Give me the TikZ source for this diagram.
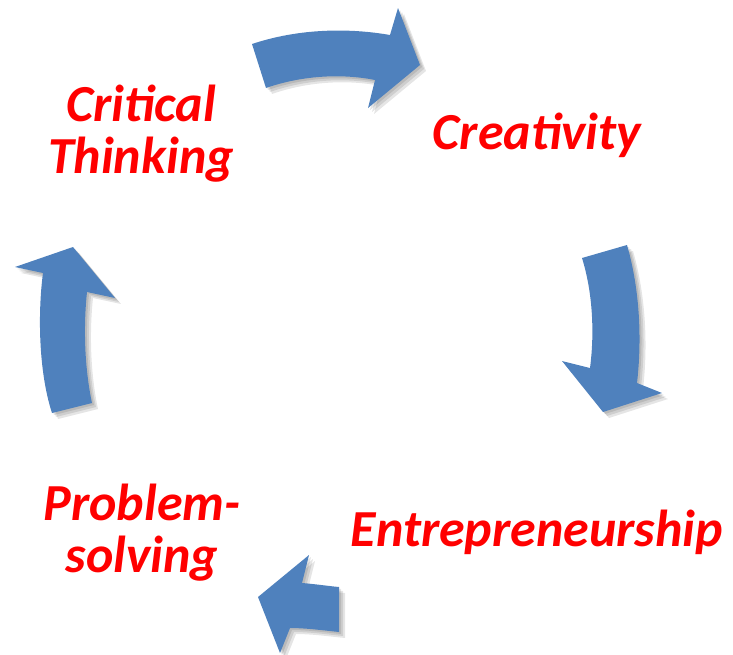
\documentclass[tikz,border=0pt]{standalone}
\usepackage{fontspec}
\setmainfont{Carlito}
\definecolor{arrowblue}{RGB}{79,129,189}
\definecolor{labelred}{RGB}{255,0,0}
\tikzset{
  cyclearrow/.style={fill=arrowblue, draw=none},
  arrowshadow/.style={fill=black, draw=none, opacity=0.10},
  cyclelabel/.style={text=labelred, font=\fontsize{52}{52}\selectfont\bfseries\itshape, align=center, inner sep=0pt}
}
\newcommand{\arrowA}{(252,44) .. controls (300,28) and (350,28) .. (390,35) -- (398,8) -- (420,65) -- (368,108) -- (375,80) .. controls (340,73) and (300,76) .. (266,88) -- cycle}
\newcommand{\arrowB}{(582,258) -- (627,245) .. controls (640,290) and (642,340) .. (637,383) -- (662,393) -- (603,412) -- (562,361) -- (590,368) .. controls (595,330) and (592,290) .. (582,258) -- cycle}
\newcommand{\arrowC}{(339,587) -- (339,632) .. controls (320,630) and (305,628) .. (290,628) -- (280,653) -- (258,597) -- (309,555) -- (302,583) .. controls (315,584) and (328,586) .. (339,587) -- cycle}
\newcommand{\arrowD}{(52,413) -- (92,403) .. controls (85,370) and (83,330) .. (87,292) -- (115,298) -- (73,247) -- (15,267) -- (43,273) .. controls (38,310) and (38,370) .. (52,413) -- cycle}
\begin{document}
\begin{tikzpicture}[x=1pt,y=-1pt]
\useasboundingbox (0,0) rectangle (733,654);
% shadows
\foreach \s in {2,4,6}{
  \begin{scope}[shift={(\s,\s)}]
    \fill[arrowshadow] \arrowA;
    \fill[arrowshadow] \arrowB;
    \fill[arrowshadow] \arrowC;
    \fill[arrowshadow] \arrowD;
  \end{scope}
}
% arrows
\fill[cyclearrow] \arrowA;
\fill[cyclearrow] \arrowB;
\fill[cyclearrow] \arrowC;
\fill[cyclearrow] \arrowD;
% labels
\node[cyclelabel] (critical) at (141,134) {Critical\\Thinking};
\node[cyclelabel] (creativity) at (537,135) {Creativity};
\node[cyclelabel] (entre) at (537,532) {Entrepreneurship};
\node[cyclelabel] (problem) at (142,533) {Problem-\\solving};
\end{tikzpicture}
\end{document}
